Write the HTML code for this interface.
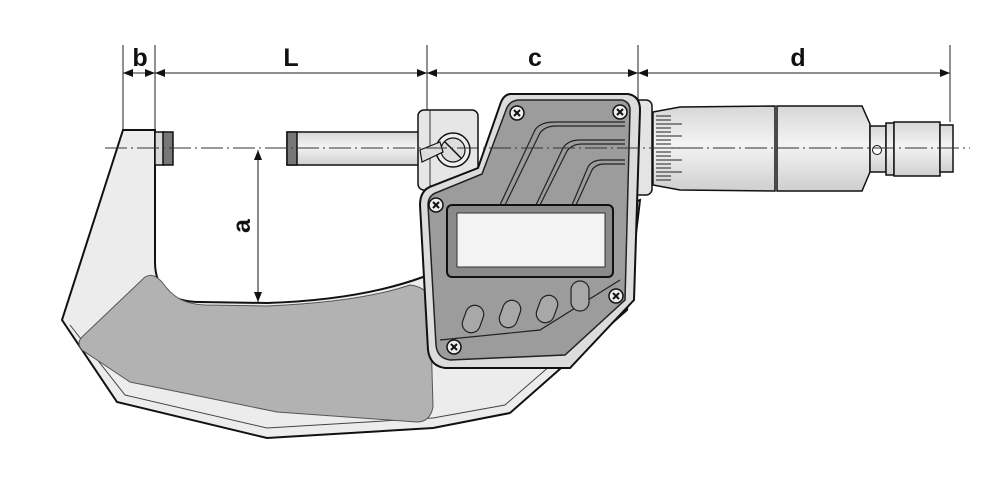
<!DOCTYPE html>
<html><head><style>html,body{margin:0;padding:0;background:#fff}svg{display:block}</style></head><body>
<svg width="1000" height="500" viewBox="0 0 1000 500" xmlns="http://www.w3.org/2000/svg" font-family="Liberation Sans, sans-serif">
<defs>
<marker id="ar" markerWidth="10" markerHeight="8" refX="10" refY="4" orient="auto-start-reverse" markerUnits="userSpaceOnUse"><path d="M0,0 L10,4 L0,8 Z" fill="#111"/></marker>
<linearGradient id="cyl" x1="0" y1="0" x2="0" y2="1"><stop offset="0" stop-color="#d6d6d6"/><stop offset="0.45" stop-color="#f4f4f4"/><stop offset="1" stop-color="#cfcfcf"/></linearGradient>
</defs>
<g stroke="#222" stroke-width="1" fill="none">
<line x1="123" y1="45" x2="123" y2="130"/>
<line x1="155" y1="45" x2="155" y2="130"/>
<line x1="427" y1="45" x2="427" y2="110"/>
<line x1="638" y1="45" x2="638" y2="100"/>
<line x1="950" y1="45" x2="950" y2="122"/>
<line x1="123" y1="73" x2="155" y2="73" marker-start="url(#ar)" marker-end="url(#ar)"/>
<line x1="155" y1="73" x2="427" y2="73" marker-start="url(#ar)" marker-end="url(#ar)"/>
<line x1="427" y1="73" x2="638" y2="73" marker-start="url(#ar)" marker-end="url(#ar)"/>
<line x1="638" y1="73" x2="950" y2="73" marker-start="url(#ar)" marker-end="url(#ar)"/>
</g>
<g font-weight="bold" font-size="25" fill="#111" text-anchor="middle">
<text x="140" y="66">b</text><text x="291" y="66">L</text><text x="535" y="66">c</text><text x="798" y="66">d</text>
</g>
<!-- frame -->
<path d="M123,130 L155,130 L155,262 C155,290 172,302 200,302 L267,303 Q360,300 423,277 L640,200 L627,310 L510,413 L433,428 L267,438 L117,402 L62,320 Z" fill="#ececec" stroke="#111" stroke-width="2"/>
<path d="M70,325 L125,395 L267,428 L433,418 L505,405 L620,305" fill="none" stroke="#444" stroke-width="1"/>
<path d="M145,277 Q153,272 162,282 C172,296 182,304 205,305 L267,306 Q360,302 410,285 Q427,287 430,300 L433,407 Q430,422 417,422 L277,412 L130,382 L82,350 Q76,343 82,337 Z" fill="#b2b2b2" stroke="#555" stroke-width="1"/>
<!-- anvil & spindle -->
<rect x="155" y="132" width="9" height="33" fill="#d8d8d8" stroke="#111" stroke-width="1.5"/>
<rect x="163" y="132" width="10" height="33" fill="#777" stroke="#111" stroke-width="1.5"/>
<rect x="287" y="132" width="133" height="33" fill="url(#cyl)" stroke="#111" stroke-width="1.5"/>
<rect x="287" y="132" width="10" height="33" fill="#777" stroke="#111" stroke-width="1.5"/>
<rect x="418" y="110" width="60" height="80" rx="6" fill="#e6e6e6" stroke="#111" stroke-width="1.5"/>
<line x1="430" y1="110" x2="430" y2="190" stroke="#333"/>
<circle cx="453" cy="150" r="17" fill="#eee" stroke="#111" stroke-width="1.5"/>
<circle cx="453" cy="150" r="12" fill="#ddd" stroke="#111" stroke-width="1.2"/>
<line x1="445" y1="142" x2="461" y2="158" stroke="#111" stroke-width="1.5"/>
<path d="M420,150 L440,142 L443,152 L422,162 Z" fill="#ddd" stroke="#111" stroke-width="1.2"/>
<!-- right cylinders -->
<rect x="630" y="100" width="22" height="95" rx="6" fill="#e4e4e4" stroke="#111" stroke-width="1.5"/>
<path d="M653,112 L680,107 L775,106 L775,191 L680,190 L653,185 Z" fill="url(#cyl)" stroke="#111" stroke-width="1.5"/>
<g stroke="#222" stroke-width="1">
<line x1="656" y1="116" x2="671" y2="116"/><line x1="656" y1="120" x2="671" y2="120"/><line x1="656" y1="124" x2="682" y2="124"/><line x1="656" y1="128" x2="671" y2="128"/><line x1="656" y1="132" x2="671" y2="132"/><line x1="656" y1="136" x2="682" y2="136"/><line x1="656" y1="140" x2="671" y2="140"/><line x1="656" y1="144" x2="671" y2="144"/><line x1="656" y1="148" x2="684" y2="148"/><line x1="656" y1="152" x2="671" y2="152"/><line x1="656" y1="156" x2="671" y2="156"/><line x1="656" y1="160" x2="682" y2="160"/><line x1="656" y1="164" x2="671" y2="164"/><line x1="656" y1="168" x2="671" y2="168"/><line x1="656" y1="172" x2="682" y2="172"/><line x1="656" y1="176" x2="671" y2="176"/><line x1="656" y1="180" x2="671" y2="180"/>
</g>
<path d="M777,106 L862,106 L870,124 L870,172 L862,191 L777,191 Z" fill="url(#cyl)" stroke="#111" stroke-width="1.5"/>
<rect x="870" y="126" width="16" height="46" fill="url(#cyl)" stroke="#111" stroke-width="1.5"/>
<circle cx="877" cy="150" r="4.5" fill="#fff" stroke="#111"/>
<rect x="886" y="123" width="8" height="52" fill="url(#cyl)" stroke="#111" stroke-width="1.5"/>
<rect x="894" y="122" width="46" height="54" fill="url(#cyl)" stroke="#111" stroke-width="1.5"/>
<rect x="940" y="125" width="13" height="47" fill="url(#cyl)" stroke="#111" stroke-width="1.5"/>
<!-- housing -->
<path d="M510,94 L628,94 Q640,96 640,110 L634,300 L570,368 L445,368 Q430,366 428,350 L420,205 Q420,190 432,186 L478,168 L500,105 Q503,95 510,94 Z" fill="#dcdcdc" stroke="#111" stroke-width="2"/>
<path d="M518,100 L622,100 Q630,102 630,110 L625,300 L565,355 L450,360 Q437,358 436,345 L428,205 Q428,195 438,192 L482,174 L506,110 Q509,101 518,100 Z" fill="#9c9c9c" stroke="#222" stroke-width="1.5"/>
<g fill="none" stroke="#222" stroke-width="1.2">
<path d="M500,205 L535,130 Q540,122 555,122 L625,122"/><path d="M505,205 L540,133 Q545,126 556,126 L625,126"/>
<path d="M536,205 L563,148 Q568,140 580,140 L625,140"/><path d="M540,205 L567,151 Q572,144 582,144 L625,144"/>
<path d="M572,205 L588,167 Q592,160 602,160 L625,160"/><path d="M576,205 L592,170 Q596,164 604,164 L625,164"/>
<path d="M440,340 L540,330 L620,280"/>
</g>
<rect x="447" y="205" width="166" height="72" rx="5" fill="#8a8a8a" stroke="#111" stroke-width="2"/>
<rect x="457" y="213" width="148" height="54" fill="#f3f3f3" stroke="#333" stroke-width="1"/>
<g fill="#a8a8a8" stroke="#222" stroke-width="1.2">
<rect x="464" y="305" width="18" height="28" rx="9" transform="rotate(20 473 319)"/>
<rect x="501" y="300" width="18" height="28" rx="9" transform="rotate(20 510 314)"/>
<rect x="538" y="295" width="18" height="28" rx="9" transform="rotate(20 547 309)"/>
<rect x="571" y="281" width="18" height="30" rx="9"/>
</g>
<g stroke="#111" stroke-width="1.5">
<g transform="translate(517,113)"><circle r="7" fill="#eee"/><path d="M-3,-3 L3,3 M3,-3 L-3,3" stroke-width="2"/></g>
<g transform="translate(620,112)"><circle r="7" fill="#eee"/><path d="M-3,-3 L3,3 M3,-3 L-3,3" stroke-width="2"/></g>
<g transform="translate(436,205)"><circle r="7" fill="#eee"/><path d="M-3,-3 L3,3 M3,-3 L-3,3" stroke-width="2"/></g>
<g transform="translate(616,296)"><circle r="7" fill="#eee"/><path d="M-3,-3 L3,3 M3,-3 L-3,3" stroke-width="2"/></g>
<g transform="translate(454,347)"><circle r="7" fill="#eee"/><path d="M-3,-3 L3,3 M3,-3 L-3,3" stroke-width="2"/></g>
</g>
<line x1="105" y1="148" x2="970" y2="148" stroke="#333" stroke-width="1" stroke-dasharray="22,4,2,4"/>
<line x1="258" y1="150" x2="258" y2="302" stroke="#111" stroke-width="1" marker-start="url(#ar)" marker-end="url(#ar)"/>
<text x="0" y="0" font-size="25" font-weight="bold" fill="#111" text-anchor="middle" transform="translate(250,226) rotate(-90)">a</text>
</svg>
</body></html>
